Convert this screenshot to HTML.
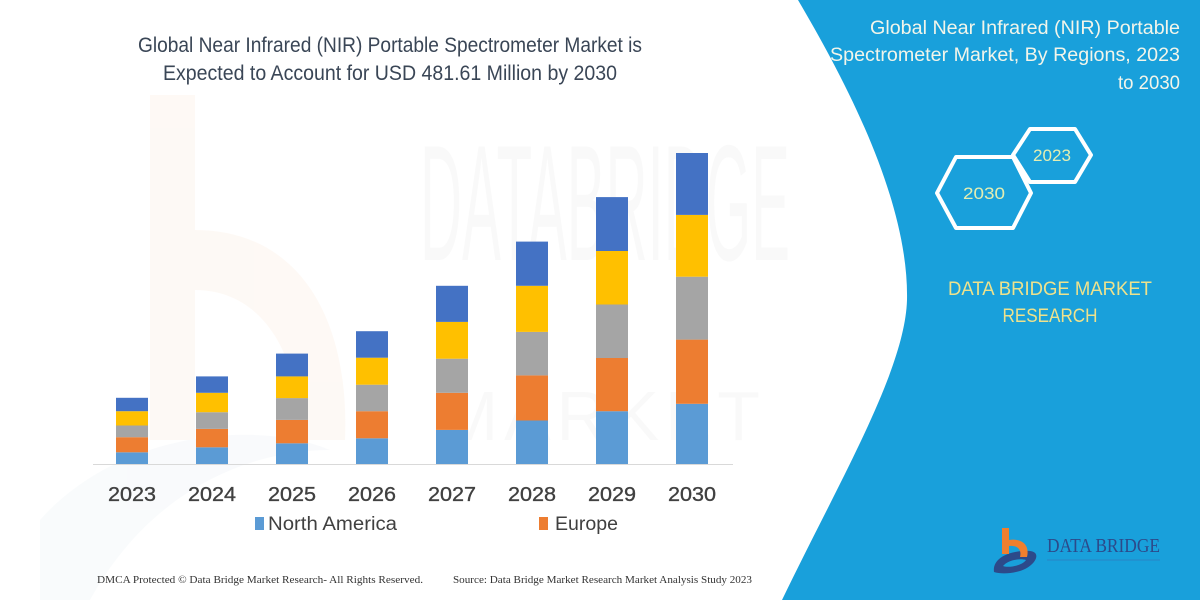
<!DOCTYPE html>
<html><head><meta charset="utf-8"><style>
html,body{margin:0;padding:0;background:#fff;}
svg{display:block;}
</style></head><body>
<svg width="1200" height="600" viewBox="0 0 1200 600" xmlns="http://www.w3.org/2000/svg">
<rect width="1200" height="600" fill="#ffffff"/>
<!-- faint watermark b -->
<g opacity="0.35">
<rect x="150" y="95" width="45" height="345" fill="#fcefe3"/>
<path d="M195 230 C300 230 350 320 345 440 L300 440 C300 350 260 290 195 290 Z" fill="#fcefe3"/>
<path d="M40 520 C120 430 260 420 330 450 C250 450 150 490 90 600 L40 600 Z" fill="#eef3f7"/>
</g>
<text x="420" y="260" font-family="Liberation Sans, sans-serif" font-size="165" fill="#000" fill-opacity="0.025" textLength="370" lengthAdjust="spacingAndGlyphs">DATABRIDGE</text>
<text x="440" y="440" font-family="Liberation Sans, sans-serif" font-size="70" fill="#000" fill-opacity="0.025" textLength="320" lengthAdjust="spacing">MARKET</text>

<!-- title -->
<g font-family="Liberation Sans, sans-serif" font-size="21" fill="#3a4656" text-anchor="middle">
<text x="390" y="52" textLength="504" lengthAdjust="spacingAndGlyphs">Global Near Infrared (NIR) Portable Spectrometer Market is</text>
<text x="390" y="80" textLength="454" lengthAdjust="spacingAndGlyphs">Expected to Account for USD 481.61 Million by 2030</text>
</g>

<!-- baseline -->
<line x1="93" y1="464.5" x2="733" y2="464.5" stroke="#d9d9d9" stroke-width="1"/>

<!-- bars -->
<g>
<rect x="116" y="452.3" width="32" height="11.7" fill="#5b9bd5"/>
<rect x="116" y="437.2" width="32" height="15.1" fill="#ed7d31"/>
<rect x="116" y="425.5" width="32" height="11.7" fill="#a5a5a5"/>
<rect x="116" y="411.2" width="32" height="14.3" fill="#ffc000"/>
<rect x="116" y="397.8" width="32" height="13.4" fill="#4472c4"/>
<rect x="196" y="447.3" width="32" height="16.7" fill="#5b9bd5"/>
<rect x="196" y="428.9" width="32" height="18.4" fill="#ed7d31"/>
<rect x="196" y="412.2" width="32" height="16.7" fill="#a5a5a5"/>
<rect x="196" y="392.8" width="32" height="19.4" fill="#ffc000"/>
<rect x="196" y="376.4" width="32" height="16.4" fill="#4472c4"/>
<rect x="276" y="443.3" width="32" height="20.7" fill="#5b9bd5"/>
<rect x="276" y="419.9" width="32" height="23.4" fill="#ed7d31"/>
<rect x="276" y="398.1" width="32" height="21.8" fill="#a5a5a5"/>
<rect x="276" y="376.4" width="32" height="21.7" fill="#ffc000"/>
<rect x="276" y="353.6" width="32" height="22.8" fill="#4472c4"/>
<rect x="356" y="438.3" width="32" height="25.7" fill="#5b9bd5"/>
<rect x="356" y="411.2" width="32" height="27.1" fill="#ed7d31"/>
<rect x="356" y="384.7" width="32" height="26.5" fill="#a5a5a5"/>
<rect x="356" y="357.7" width="32" height="27.0" fill="#ffc000"/>
<rect x="356" y="331.2" width="32" height="26.5" fill="#4472c4"/>
<rect x="436" y="429.9" width="32" height="34.1" fill="#5b9bd5"/>
<rect x="436" y="392.8" width="32" height="37.1" fill="#ed7d31"/>
<rect x="436" y="358.7" width="32" height="34.1" fill="#a5a5a5"/>
<rect x="436" y="321.9" width="32" height="36.8" fill="#ffc000"/>
<rect x="436" y="285.8" width="32" height="36.1" fill="#4472c4"/>
<rect x="516" y="420.5" width="32" height="43.5" fill="#5b9bd5"/>
<rect x="516" y="375.4" width="32" height="45.1" fill="#ed7d31"/>
<rect x="516" y="331.9" width="32" height="43.5" fill="#a5a5a5"/>
<rect x="516" y="285.8" width="32" height="46.1" fill="#ffc000"/>
<rect x="516" y="241.6" width="32" height="44.2" fill="#4472c4"/>
<rect x="596" y="411.2" width="32" height="52.8" fill="#5b9bd5"/>
<rect x="596" y="358.0" width="32" height="53.2" fill="#ed7d31"/>
<rect x="596" y="304.5" width="32" height="53.5" fill="#a5a5a5"/>
<rect x="596" y="251.0" width="32" height="53.5" fill="#ffc000"/>
<rect x="596" y="197.1" width="32" height="53.9" fill="#4472c4"/>
<rect x="676" y="403.8" width="32" height="60.2" fill="#5b9bd5"/>
<rect x="676" y="339.6" width="32" height="64.2" fill="#ed7d31"/>
<rect x="676" y="276.7" width="32" height="62.9" fill="#a5a5a5"/>
<rect x="676" y="214.9" width="32" height="61.8" fill="#ffc000"/>
<rect x="676" y="153.0" width="32" height="61.9" fill="#4472c4"/>
</g>

<!-- year labels -->
<g font-family="Liberation Sans, sans-serif" font-size="20" fill="#404040" stroke="#404040" stroke-width="0.35" text-anchor="middle">
<text x="132" y="501" textLength="48" lengthAdjust="spacingAndGlyphs">2023</text>
<text x="212" y="501" textLength="48" lengthAdjust="spacingAndGlyphs">2024</text>
<text x="292" y="501" textLength="48" lengthAdjust="spacingAndGlyphs">2025</text>
<text x="372" y="501" textLength="48" lengthAdjust="spacingAndGlyphs">2026</text>
<text x="452" y="501" textLength="48" lengthAdjust="spacingAndGlyphs">2027</text>
<text x="532" y="501" textLength="48" lengthAdjust="spacingAndGlyphs">2028</text>
<text x="612" y="501" textLength="48" lengthAdjust="spacingAndGlyphs">2029</text>
<text x="692" y="501" textLength="48" lengthAdjust="spacingAndGlyphs">2030</text>
</g>

<!-- legend -->
<rect x="255" y="517" width="9" height="13" fill="#5b9bd5"/>
<rect x="539" y="517" width="9" height="13" fill="#ed7d31"/>
<g font-family="Liberation Sans, sans-serif" font-size="19" fill="#404040">
<text x="268" y="530" textLength="129" lengthAdjust="spacingAndGlyphs">North America</text>
<text x="555" y="530" textLength="63" lengthAdjust="spacingAndGlyphs">Europe</text>
</g>

<!-- footer -->
<g font-family="Liberation Serif, serif" font-size="11" fill="#333">
<text x="97" y="583" textLength="326" lengthAdjust="spacingAndGlyphs">DMCA Protected © Data Bridge Market Research- All Rights Reserved.</text>
<text x="453" y="583" textLength="299" lengthAdjust="spacingAndGlyphs">Source: Data Bridge Market Research Market Analysis Study 2023</text>
</g>

<!-- right blue panel -->
<path d="M798 0 L1200 0 L1200 600 L782 600 C840 480 905 370 907 300 C909 200 845 80 798 0 Z" fill="#19a0db"/>

<g font-family="Liberation Sans, sans-serif" font-size="19" fill="#f2f5ea" text-anchor="end">
<text x="1180" y="34" textLength="310" lengthAdjust="spacingAndGlyphs">Global Near Infrared (NIR) Portable</text>
<text x="1180" y="61" textLength="350" lengthAdjust="spacingAndGlyphs">Spectrometer Market, By Regions, 2023</text>
<text x="1180" y="89" textLength="62" lengthAdjust="spacingAndGlyphs">to 2030</text>
</g>

<!-- hexagons -->
<g fill="none" stroke="#ffffff" stroke-width="4" stroke-linejoin="round">
<polygon points="1013,155 1030,129 1075,129 1091,155 1075,182 1030,182"/>
<polygon points="937,193 956,157 1013,157 1031,193 1013,228 956,228"/>
</g>
<g font-family="Liberation Sans, sans-serif" font-size="17" fill="#e4eeb2" text-anchor="middle">
<text x="1052" y="161" textLength="38" lengthAdjust="spacingAndGlyphs">2023</text>
<text x="984" y="199" textLength="42" lengthAdjust="spacingAndGlyphs">2030</text>
</g>

<g font-family="Liberation Sans, sans-serif" font-size="19" fill="#eee28c" text-anchor="middle">
<text x="1050" y="295" textLength="204" lengthAdjust="spacingAndGlyphs">DATA BRIDGE MARKET</text>
<text x="1050" y="322" textLength="95" lengthAdjust="spacingAndGlyphs">RESEARCH</text>
</g>

<!-- logo -->
<path d="M994 572 C992 558 1010 550 1030 551 C1042 552 1036 566 1020 571 C1010 574 1000 574 994 572 Z M1003 566 C1008 568 1022 566 1026 560 C1020 558 1008 560 1003 566 Z" fill="#2c4a8a" fill-rule="evenodd"/>
<rect x="1002" y="528" width="7" height="26" fill="#f07f2e"/>
<path d="M1009 540 C1022 538 1030 545 1027 557 L1020 557 C1022 549 1017 545 1009 546 Z" fill="#f07f2e"/>
<text x="1047" y="552" font-family="Liberation Serif, serif" font-size="20" fill="#2c4a8a" textLength="113" lengthAdjust="spacingAndGlyphs">DATA BRIDGE</text>
<line x1="1047" y1="560" x2="1160" y2="560" stroke="#3a6bb0" stroke-width="1" opacity="0.5"/>
</svg>
</body></html>
